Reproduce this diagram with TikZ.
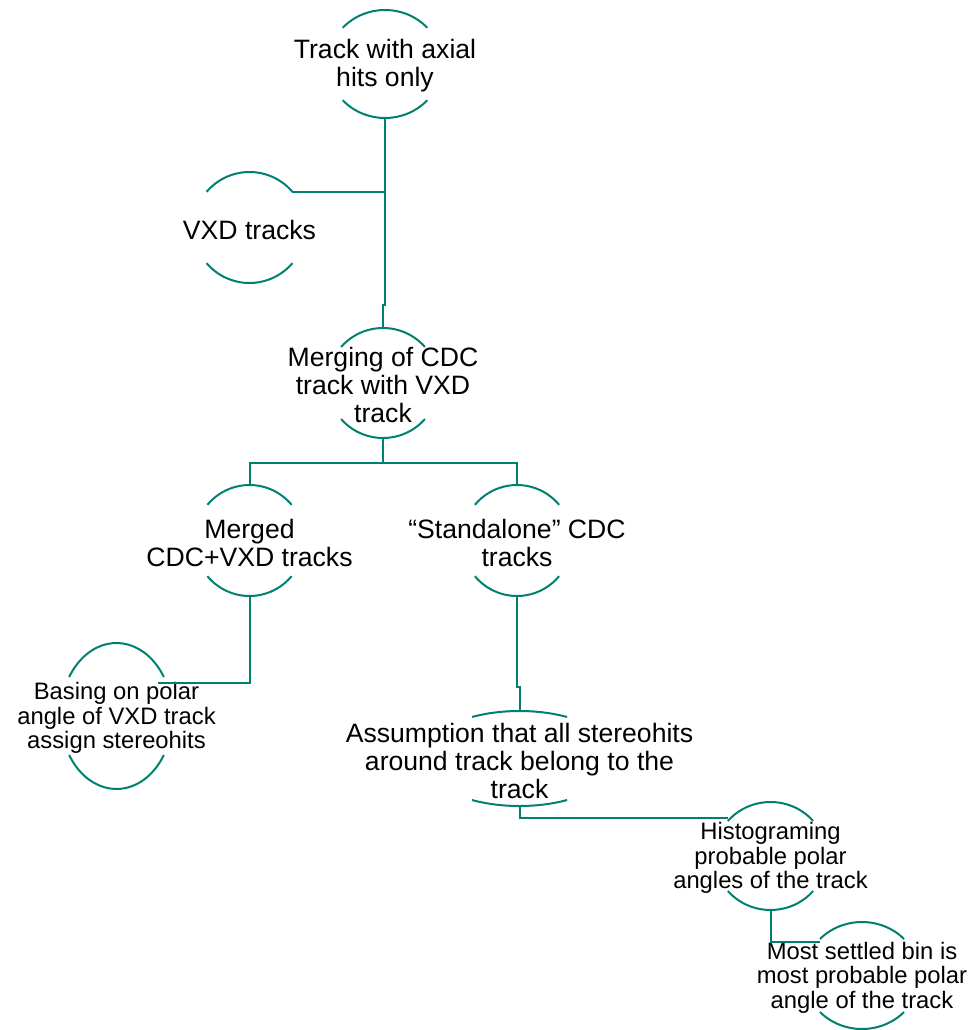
\documentclass[tikz,border=0pt]{standalone}
\usepackage{fontspec}
\setmainfont{Liberation Sans}
\usetikzlibrary{calc,shapes.geometric}
\definecolor{teal1}{RGB}{0,128,112}
\tikzset{
  ln/.style={draw=teal1, line width=2pt},
  oval/.style={ellipse, inner sep=0pt, outer sep=0pt, draw=none},
  bigtxt/.style={align=center, inner sep=0pt, yshift=-2pt, font=\fontsize{26.6}{28}\selectfont},
  smalltxt/.style={align=center, inner sep=0pt, yshift=-2pt, font=\fontsize{23.8}{24.5}\selectfont},
}
% #1 name, #2 rx, #3 ry, #4 angle
\newcommand\ovalarcs[4]{%
  \draw[ln] ($(#1.center)+({#2*cos(#4)},{#3*sin(#4)})$) arc[start angle=#4, end angle=180-#4, x radius=#2pt, y radius=#3pt];
  \draw[ln] ($(#1.center)+({-#2*cos(#4)},{-#3*sin(#4)})$) arc[start angle=180+#4, end angle=360-#4, x radius=#2pt, y radius=#3pt];
}
\begin{document}
\begin{tikzpicture}[x=1pt,y=1pt]
\useasboundingbox (0,0) rectangle (972,-1030);

% ellipse outlines (invisible nodes used for anchors)
\node[oval, minimum width=114pt, minimum height=108pt] (e1) at (385,-64) {};
\node[oval, minimum width=112pt, minimum height=111pt] (e2) at (249.5,-227.5) {};
\node[oval, minimum width=111pt, minimum height=110pt] (e3) at (383,-383) {};
\node[oval, minimum width=110pt, minimum height=111pt] (e4) at (249.5,-540.5) {};
\node[oval, minimum width=110pt, minimum height=111pt] (e5) at (517,-540.5) {};
\node[oval, minimum width=112pt, minimum height=146pt] (e6) at (116.5,-716) {};
\node[oval, minimum width=196pt, minimum height=95pt] (e7) at (519.5,-758.5) {};
\node[oval, minimum width=112pt, minimum height=108pt] (e8) at (770.5,-856) {};
\node[oval, minimum width=115pt, minimum height=107pt] (e9) at (862,-975.5) {};

% texts
\node[bigtxt] (t1) at (e1.center) {Track with axial\\hits only};
\node[bigtxt] (t2) at (e2.center) {VXD tracks};
\node[bigtxt] (t3) at (e3.center) {Merging of CDC\\track with VXD\\track};
\node[bigtxt] (t4) at (e4.center) {Merged\\CDC+VXD tracks};
\node[bigtxt] (t5) at (e5.center) {“Standalone” CDC\\tracks};
\node[smalltxt] (t6) at (e6.center) {Basing on polar\\angle of VXD track\\assign stereohits};
\node[bigtxt] (t7) at (e7.center) {Assumption that all stereohits\\around track belong to the\\track};
\node[smalltxt] (t8) at (e8.center) {Histograming\\probable polar\\angles of the track};
\node[smalltxt] (t9) at (e9.center) {Most settled bin is\\most probable polar\\angle of the track};

% arcs
\ovalarcs{e1}{57}{54}{42}
\ovalarcs{e2}{56}{55.5}{40}
\ovalarcs{e3}{55.5}{55}{41}
\ovalarcs{e4}{55}{55.5}{40}
\ovalarcs{e5}{55}{55.5}{40}
\ovalarcs{e6}{56}{73}{32.3}
\ovalarcs{e7}{98}{47.5}{61}
\ovalarcs{e8}{56}{54}{40.4}
\ovalarcs{e9}{57.5}{53.5}{43}

% connector helper coordinates
\coordinate (e2tr) at ($(e2.center)+({56*cos(40)},{55.5*sin(40)})$);
\coordinate (j1) at (383,-305);
\coordinate (b3) at (383,-463);
\coordinate (c6) at (158,-683);
\coordinate (j5) at (519.5,-687);
\coordinate (c8) at (728,-818);
\coordinate (c9) at (820,-942);

% connectors
\draw[ln] (e1.south) |- (j1) -- (e3.north);
\draw[ln] (e2tr) -| (e1.south);
\draw[ln] (e3.south) -- (b3) -| (e4.north);
\draw[ln] (b3) -| (e5.north);
\draw[ln] (e4.south) |- (c6);
\draw[ln] (e5.south) |- (j5) -- (e7.north);
\draw[ln] (e7.south) |- (c8);
\draw[ln] (e8.south) |- (c9);
\end{tikzpicture}
\end{document}
